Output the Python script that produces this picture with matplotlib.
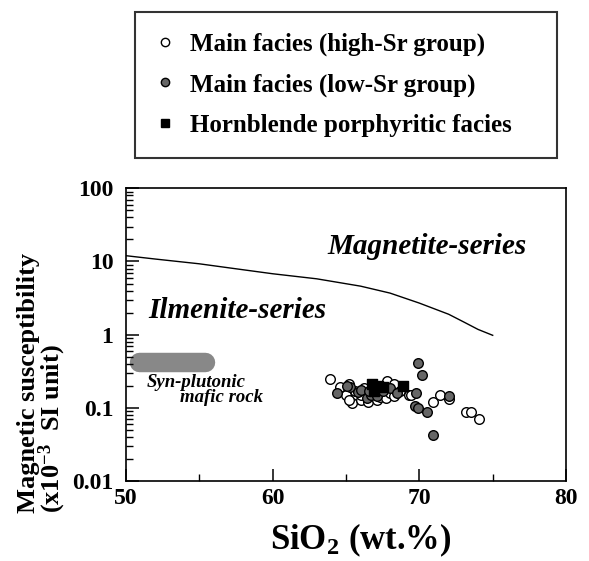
import matplotlib
matplotlib.use("Agg")
import matplotlib.pyplot as plt
from matplotlib.lines import Line2D
from matplotlib.ticker import LogLocator, NullFormatter, FixedLocator, FixedFormatter

plt.rcParams['font.family'] = ['Liberation Serif', 'DejaVu Serif']
plt.rcParams['font.weight'] = 'bold'
plt.rcParams['mathtext.fontset'] = 'custom'
plt.rcParams['mathtext.rm'] = 'Liberation Serif:bold'
plt.rcParams['mathtext.it'] = 'Liberation Serif:bold'
plt.rcParams['mathtext.bf'] = 'Liberation Serif:bold'

# Main facies (high-Sr group), open circles
high_sr_sio2 = [63.9, 64.6, 65.0, 65.2, 65.4, 65.6, 66.0, 66.2, 66.5, 66.8, 67.1, 67.3,
                67.7, 67.8, 68.0, 68.3, 68.3, 68.7, 69.3, 69.4, 70.9, 71.4, 72.0,
                73.2, 73.5, 74.1, 65.2, 66.0]
high_sr_chi = [0.25, 0.19, 0.15, 0.21, 0.116, 0.17, 0.128, 0.185, 0.122, 0.20, 0.128, 0.14,
               0.135, 0.23, 0.16, 0.21, 0.143, 0.17, 0.15, 0.15, 0.122, 0.15, 0.132,
               0.087, 0.088, 0.07, 0.128, 0.15]

# Main facies (low-Sr group), grey circles
low_sr_sio2 = [64.4, 65.3, 65.8, 66.4, 66.0, 66.7, 67.1, 67.5, 68.0, 68.5, 69.9, 70.2,
               69.8, 69.7, 69.9, 70.5, 72.0, 70.9, 65.1, 66.6]
low_sr_chi = [0.158, 0.195, 0.166, 0.135, 0.175, 0.15, 0.145, 0.17, 0.185, 0.158, 0.415, 0.28,
              0.158, 0.106, 0.101, 0.089, 0.147, 0.043, 0.20, 0.17]

# Hornblende porphyritic facies, squares
hbl_sio2 = [66.8, 66.9, 67.2, 67.5, 68.9]
hbl_chi = [0.21, 0.17, 0.20, 0.19, 0.20]

# magnetite / ilmenite series boundary
line_sio2 = [50, 52, 55, 57, 60, 63, 66, 68, 70, 72, 73, 74, 75]
line_chi = [12, 10.8, 9.3, 8.2, 6.8, 5.8, 4.6, 3.7, 2.7, 1.9, 1.5, 1.18, 0.98]

# syn-plutonic mafic rock field (end points of the band)
mafic_sio2 = [50.9, 55.4]
mafic_chi = [0.42, 0.42]

yticks = [0.01, 0.1, 1, 10, 100]
ytick_labels = ['0.01', '0.1', '1', '10', '100']
xticks = [50, 60, 70, 80]

fig = plt.figure(figsize=(5.89, 5.61), dpi=100)
ax = fig.add_axes([0.2139, 0.1426, 0.7471, 0.5217])

ax.plot(mafic_sio2, mafic_chi, color='#888888', lw=14, solid_capstyle='round', zorder=1)
ax.plot(line_sio2, line_chi, color='black', lw=1.0, zorder=2)

ax.scatter(high_sr_sio2, high_sr_chi, s=48, facecolor='white', edgecolor='black', lw=1.0, zorder=3)
ax.scatter(low_sr_sio2, low_sr_chi, s=48, facecolor='#666666', edgecolor='black', lw=1.0, zorder=4)
ax.scatter(hbl_sio2, hbl_chi, s=60, marker='s', facecolor='black', edgecolor='black', zorder=5)

ax.set_xlim(50, 80)
ax.set_yscale('log')
ax.set_ylim(0.01, 100)
ax.xaxis.set_major_locator(FixedLocator(xticks))
ax.xaxis.set_minor_locator(FixedLocator([55, 65, 75]))
ax.yaxis.set_major_locator(FixedLocator(yticks))
ax.yaxis.set_major_formatter(FixedFormatter(ytick_labels))
ax.yaxis.set_minor_locator(LogLocator(base=10, subs=range(2, 10), numticks=10))
ax.yaxis.set_minor_formatter(NullFormatter())

ax.tick_params(which='both', direction='in', labelsize=17)
ax.tick_params(which='major', length=9, width=1.1)
ax.tick_params(which='minor', length=5, width=1.0)
ax.tick_params(axis='y', pad=9)
ax.tick_params(axis='x', pad=5)
for sp in ax.spines.values():
    sp.set_linewidth(1.2)

ax.text(63.7, 15.8, 'Magnetite-series', fontsize=21, style='italic', ha='left', va='center')
ax.text(51.5, 2.15, 'Ilmenite-series', fontsize=21, style='italic', ha='left', va='center')
ax.text(51.4, 0.224, 'Syn-plutonic', fontsize=13.5, style='italic', ha='left', va='center')
ax.text(53.7, 0.138, 'mafic rock', fontsize=13.5, style='italic', ha='left', va='center')

fig.text(0.613, 0.037, 'SiO$_2$ (wt.%)', fontsize=25, ha='center', va='center')
fig.text(0.072, 0.0856, 'Magnetic susceptibility\n(x10$^{-3}$  SI unit)', fontsize=19,
         rotation=90, ha='center', va='bottom', multialignment='left', linespacing=0.88)

handles = [
    Line2D([], [], ls='none', marker='o', ms=6, mfc='white', mec='black', mew=1.0),
    Line2D([], [], ls='none', marker='o', ms=6, mfc='#666666', mec='black', mew=1.0),
    Line2D([], [], ls='none', marker='s', ms=6, mfc='black', mec='black'),
]
labels = ['Main facies (high-Sr group)', 'Main facies (low-Sr group)', 'Hornblende porphyritic facies']
leg = fig.legend(handles, labels, loc='upper left', bbox_to_anchor=(0.229, 0.979, 0.7165, 0.0),
                 mode='expand', fontsize=18, frameon=True, fancybox=False, edgecolor='black',
                 handlelength=0.8, handletextpad=0.6, borderpad=0.82, labelspacing=0.7,
                 borderaxespad=0)
leg.get_frame().set_linewidth(1.5)

fig.savefig('out.png', dpi=100)
